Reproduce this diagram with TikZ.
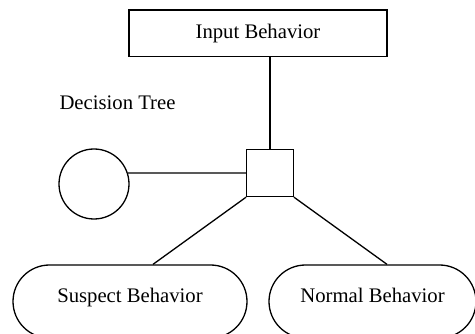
\documentclass[tikz,border=0pt]{standalone}
\usepackage{fontspec}
\setmainfont{Liberation Serif}
\usetikzlibrary{calc}
\begin{document}
\begin{tikzpicture}[x=1pt,y=-1pt,
  every node/.style={font=\fontsize{20.7}{24}\selectfont},
  ln/.style={line width=1.3pt},
  box/.style={draw,ln,minimum width=258pt,minimum height=46.5pt,inner sep=0pt},
  sqbox/.style={draw,ln,minimum width=46.5pt,minimum height=47pt,inner sep=0pt},
  circ/.style={draw,ln,circle,minimum size=70pt,inner sep=0pt},
  stad/.style={draw,ln,rounded corners=36.5pt,minimum height=73pt,inner sep=0pt,text height=10pt,text depth=7pt}]
\useasboundingbox (0,0) rectangle (475,334);
\clip (0,0) rectangle (475,334);
\node[box] (inp) at (258,33.3) {Input Behavior};
\node[anchor=base] (dt) at (117.5,109.5) {Decision Tree};
\node[sqbox] (sq) at (270,173) {};
\node[circ] (c) at (94,184) {};
\node[stad,minimum width=234pt] (s1) at (130,301.5) {Suspect Behavior};
\node[stad,minimum width=207pt] (s2) at (372.5,301.5) {Normal Behavior};
\draw[ln] (inp.south -| sq.north) -- (sq.north);
\draw[ln] (c.18) -- (sq.west);
\draw[ln] (sq.south west) -- ($(s1.north)+(23,0)$);
\draw[ln] (sq.south east) -- ($(s2.north)+(14.5,0)$);
\end{tikzpicture}
\end{document}
